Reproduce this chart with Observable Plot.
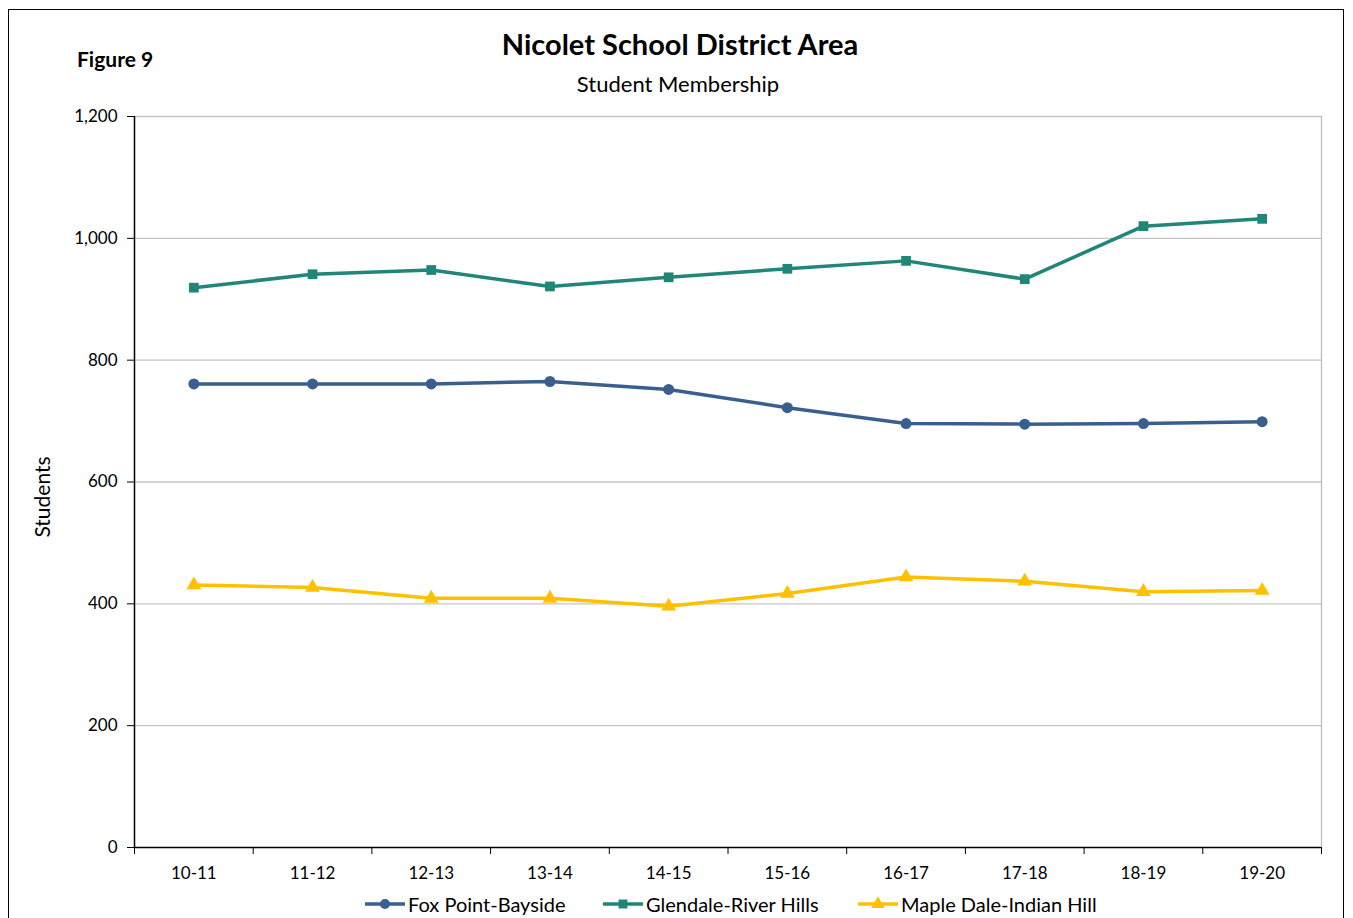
<!DOCTYPE html>
<html>
<head>
<meta charset="utf-8">
<script src="https://cdn.jsdelivr.net/npm/d3@7"></script>
<script src="https://cdn.jsdelivr.net/npm/@observablehq/plot@0.6"></script>
<style>
  html, body { margin: 0; padding: 0; background: #fff; }
  body { width: 1353px; height: 918px; position: relative; overflow: hidden; font-family: Lato, "Open Sans", sans-serif; }
  #frame { position: absolute; left: 8px; top: 9px; width: 1336px; height: 920px; border: 1.5px solid #000; box-sizing: border-box; }
  #fig { position: absolute; left: 77px; top: 46px; font-size: 21px; font-weight: bold; color: #000; }
  #title { position: absolute; left: 0; width: 1360px; top: 26px; text-align: center; font-size: 29px; font-weight: bold; color: #000; }
  #subtitle { position: absolute; left: 0; width: 1356px; top: 70px; text-align: center; font-size: 22px; color: #000; }
  #chart { position: absolute; left: 0; top: 100px; }
  #legend { position: absolute; left: 0; top: 891px; width: 1353px; height: 26px; }
  .li { position: absolute; top: 0; display: flex; align-items: center; font-size: 20px; color: #000; white-space: nowrap; }
  .li svg { margin-right: 3px; }
</style>
</head>
<body>
<div id="frame"></div>
<div id="fig">Figure 9</div>
<div id="title">Nicolet School District Area</div>
<div id="subtitle">Student Membership</div>
<div id="chart"></div>
<div id="legend"></div>
<script>
const categories = ["10-11", "11-12", "12-13", "13-14", "14-15", "15-16", "16-17", "17-18", "18-19", "19-20"];
const seriesNames = ["Fox Point-Bayside", "Glendale-River Hills", "Maple Dale-Indian Hill"];
const foxPoint = [761, 761, 761, 765, 752, 722, 696, 695, 696, 699];
const glendale = [919, 941, 948, 921, 936, 950, 963, 933, 1020, 1032];
const mapleDale = [431, 427, 409, 409, 396, 417, 444, 437, 420, 422];
const yTicks = [0, 200, 400, 600, 800, 1000, 1200];
const colors = ["#3A5F8F", "#218678", "#FFC000"];
const symbols = ["circle", "square", "triangle"];

const seriesValues = [foxPoint, glendale, mapleDale];
const data = [];
seriesValues.forEach((vals, s) => vals.forEach((v, i) => data.push({series: seriesNames[s], i, cat: categories[i], value: v})));

const boundaries = d3.range(categories.length + 1).map(k => k - 0.5);
const font = "Lato, 'Open Sans', sans-serif";

const chart = Plot.plot({
  width: 1353,
  height: 790,
  marginLeft: 134,
  marginRight: 32,
  marginTop: 16,
  marginBottom: 43,
  style: {fontFamily: font, fontSize: "17px", color: "#000", background: "transparent"},
  x: {type: "linear", domain: [-0.5, categories.length - 0.5]},
  y: {domain: [0, 1200]},
  color: {domain: seriesNames, range: colors},
  symbol: {domain: seriesNames, range: symbols},
  marks: [
    Plot.ruleY(yTicks.filter(d => d > 0), {stroke: "#c6c6c6", strokeWidth: 1.3}),
    Plot.ruleX([categories.length - 0.5], {stroke: "#bdbdbd", strokeWidth: 1.3}),
    Plot.axisY({ticks: yTicks, tickSize: 7, tickPadding: 10, tickFormat: d3.format(","), label: null, stroke: "#000"}),
    Plot.ruleX([-0.5], {stroke: "#000", strokeWidth: 1.5}),
    Plot.ruleY([0], {stroke: "#000", strokeWidth: 1.5}),
    Plot.axisX({ticks: boundaries, tickSize: 7, tickFormat: () => "", label: null, stroke: "#000"}),
    Plot.axisX({ticks: d3.range(categories.length), tickSize: 0, tickPadding: 19, tickFormat: i => categories[i], label: null}),
    Plot.line(data, {x: "i", y: "value", z: "series", stroke: "series", strokeWidth: 3.5}),
    Plot.dot(data, {x: "i", y: "value", symbol: "series", fill: "series", stroke: "none", r: 5.5})
  ]
});
document.getElementById("chart").appendChild(chart);

// y-axis title
d3.select(chart).append("text")
  .attr("transform", "translate(50,397) rotate(-90)")
  .attr("text-anchor", "middle")
  .style("font-size", "21px")
  .style("font-family", font)
  .attr("fill", "#000")
  .text("Students");

// legend
const legendX = [365, 603, 858];
const legend = document.getElementById("legend");
seriesNames.forEach((name, s) => {
  const item = document.createElement("div");
  item.className = "li";
  item.style.left = legendX[s] + "px";
  const sw = d3.create("svg").attr("width", 40).attr("height", 26);
  sw.append("line").attr("x1", 0).attr("x2", 40).attr("y1", 13).attr("y2", 13)
    .attr("stroke", colors[s]).attr("stroke-width", 3.5);
  const sym = d3.symbol(s === 0 ? d3.symbolCircle : s === 1 ? d3.symbolSquare : d3.symbolTriangle, 80);
  sw.append("path").attr("d", sym()).attr("transform", "translate(20,13)").attr("fill", colors[s]);
  item.appendChild(sw.node());
  const t = document.createElement("span");
  t.textContent = name;
  item.appendChild(t);
  legend.appendChild(item);
});
</script>
</body>
</html>
